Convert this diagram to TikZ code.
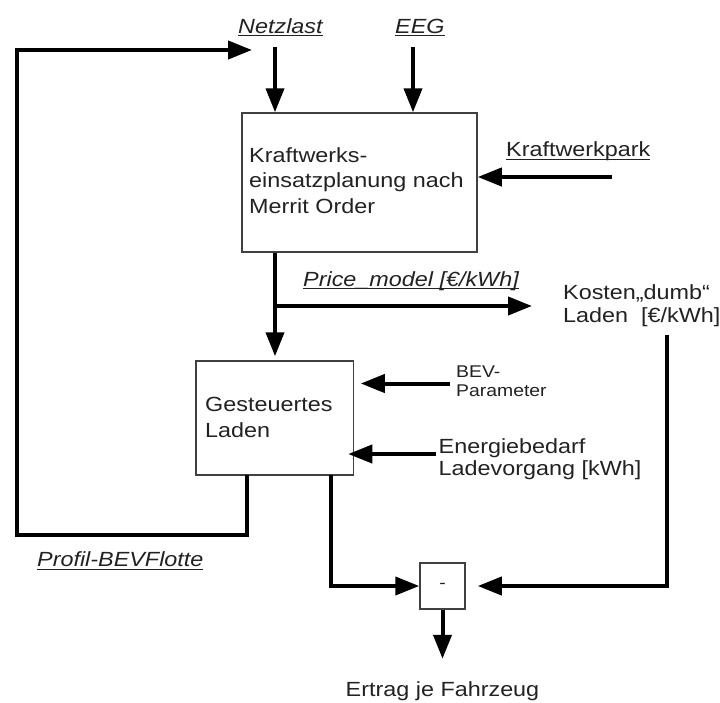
\documentclass[tikz,border=0pt]{standalone}
\usepackage{fontspec}
\setmainfont{Liberation Sans}[FakeStretch=1.14]
\usetikzlibrary{arrows.meta}
\definecolor{txt}{HTML}{222222}
\definecolor{bord}{HTML}{404040}
\newcommand\ulx[1]{\setbox0\hbox{#1}\rlap{\rule[-3.2pt]{\wd0}{1.1pt}}\box0}
\begin{document}
\begin{tikzpicture}[x=1pt,y=-1pt,
  lbl/.style={inner sep=0pt, anchor=base west, text=txt, font=\fontsize{20.5}{24}\selectfont},
  lbls/.style={lbl, font=\fontsize{17}{20}\selectfont},
  blk/.style={draw=bord, line width=1.5pt, fill=white, inner sep=0pt},
  ln/.style={line width=4pt, draw=black},
  arr/.style={ln, -{Triangle[length=24pt,width=18pt]}}]
\fill[white] (0,0) rectangle (720,702);
\useasboundingbox (0,0) rectangle (720,702);

% boxes
\node[blk, minimum width=235pt, minimum height=139pt] (kw) at (359.5,182.5) {};
\node[blk, minimum width=157.5pt, minimum height=114pt] (gl) at (274.75,418) {};
\node[blk, minimum width=45pt, minimum height=46pt] (mi) at (442.5,586) {};

% texts
\node[lbl] (kw1) at (249,162.3) {Kraftwerks-};
\node[lbl] (kw2) at (249,187.3) {einsatzplanung nach};
\node[lbl] (kw3) at (249,213.3) {Merrit Order};
\node[lbl] (gl1) at (205,411.7) {Gesteuertes};
\node[lbl] (gl2) at (205,437.7) {Laden};
\node[lbl] (netz) at (238,33) {\itshape\ulx{Netzlast}};
\node[lbl] (eeg) at (395,33) {\itshape\ulx{EEG}};
\node[lbl] (kwp) at (506,156.7) {\ulx{Kraftwerkpark}};
\node[lbl] (pm) at (303,286) {\itshape\ulx{Price\_model [€/kWh]}};
\node[lbl] (ko1) at (563,299.5) {Kosten„dumb“};
\node[lbl] (ko2) at (563,322) {Laden\ \ [€/kWh]};
\node[lbls] (bev1) at (456,377.5) {BEV-};
\node[lbls] (bev2) at (456,396) {Parameter};
\node[lbl] (en1) at (438.5,453.3) {Energiebedarf};
\node[lbl] (en2) at (438.5,475) {Ladevorgang [kWh]};
\node[lbl] (pf) at (37,566.7) {\itshape\ulx{Profil-BEVFlotte}};
\node[lbl, anchor=base] (er) at (442.5,696) {Ertrag je Fahrzeug};
\node[lbls, anchor=center] (ms) at (mi.center) {-};

% free ends
\coordinate (nzA) at (275,47);
\coordinate (egA) at (413,47);
\coordinate (kpA) at (612,177);
\coordinate (br) at (275,306);
\coordinate (pmE) at (532,306);
\coordinate (rt) at (667,335);
\coordinate (legR) at (330.7,475);
\coordinate (legL) at (247,475);
\coordinate (bevA) at (450,383.5);
\coordinate (enA) at (436,454);
\coordinate (fbC) at (17,50);
\coordinate (fbE) at (252,50);

% connectors
\draw[arr] (nzA) -- (nzA |- kw.north);
\draw[arr] (egA) -- (egA |- kw.north);
\draw[arr] (kpA) -- (kpA -| kw.east);
\draw[arr, shorten >=4pt] (nzA |- kw.south) -- (nzA |- gl.north);
\draw[arr] (br) -- (pmE);
\draw[arr, shorten >=12pt] (rt) |- (mi.east);
\draw[arr] (legR) |- (mi.west);
\draw[arr, shorten >=6.5pt] (bevA) -- (bevA -| gl.east);
\draw[arr, shorten >=-6pt] (enA) -- (enA -| gl.east);
\draw[arr] (legL) -- ++(0,60) -| (fbC) -- (fbE);
\draw[arr] (mi.south) -- ++(0,49);
\end{tikzpicture}
\end{document}
